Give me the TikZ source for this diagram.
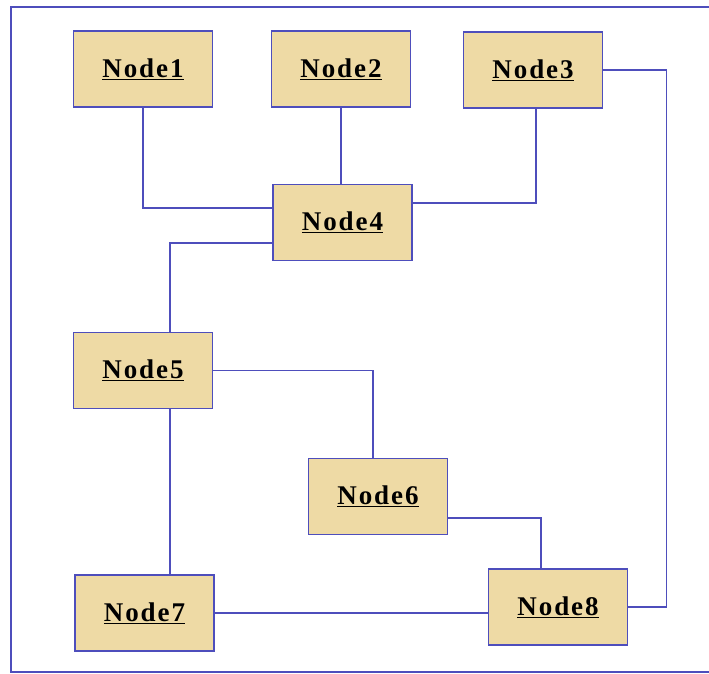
\documentclass[tikz,border=0pt]{standalone}
\usepackage{fontspec}
\setmainfont{Liberation Serif}
\newfontfamily\boxfont[LetterSpace=7]{Liberation Serif}
\definecolor{linec}{RGB}{78,78,188}
\definecolor{paper}{RGB}{238,218,165}
\begin{document}
\begin{tikzpicture}[x=1pt,y=-1pt,
  box/.style={draw=linec,line width=1.8pt,fill=paper,minimum width=139pt,minimum height=76pt,inner sep=0pt,
     font=\boxfont\fontsize{27}{30}\selectfont\bfseries},
  conn/.style={draw=linec,line width=1.2pt}]
\useasboundingbox (0,0) rectangle (709,673);
\draw[linec,line width=1.6pt] (709,7) -- (11,7) -- (11,672) -- (709,672);
\node[box] (n1) at (143,69) {\underline{Node1}};
\node[box] (n2) at (341,69) {\underline{Node2}};
\node[box] (n3) at (533,70) {\underline{Node3}};
\node[box] (n4) at (342.5,222.5) {\underline{Node4}};
\node[box] (n5) at (143,370.5) {\underline{Node5}};
\node[box] (n6) at (378,496.5) {\underline{Node6}};
\node[box] (n7) at (144.5,613) {\underline{Node7}};
\node[box] (n8) at (558,607) {\underline{Node8}};
\draw[conn] (n1.south) |- ([yshift=14.5pt]n4.west);
\draw[conn] (n2.south) -- (n2.south |- n4.north);
\draw[conn] ([xshift=3pt]n3.south) |- ([yshift=19.5pt]n4.east);
\draw[conn] ([yshift=-20.5pt]n4.west) -| ([xshift=27pt]n5.north);
\draw[conn] (n5.east) -| ([xshift=-5pt]n6.north);
\draw[conn] ([xshift=27pt]n5.south) -- ([xshift=27pt]n5.south |- n7.north);
\draw[conn] ([yshift=-21.5pt]n6.east) -| ([xshift=-17pt]n8.north);
\draw[conn] (n7.east) -- (n7.east -| n8.west);
\draw[conn] (n3.east) -- ++(63,0) |- (n8.east);
\end{tikzpicture}
\end{document}
